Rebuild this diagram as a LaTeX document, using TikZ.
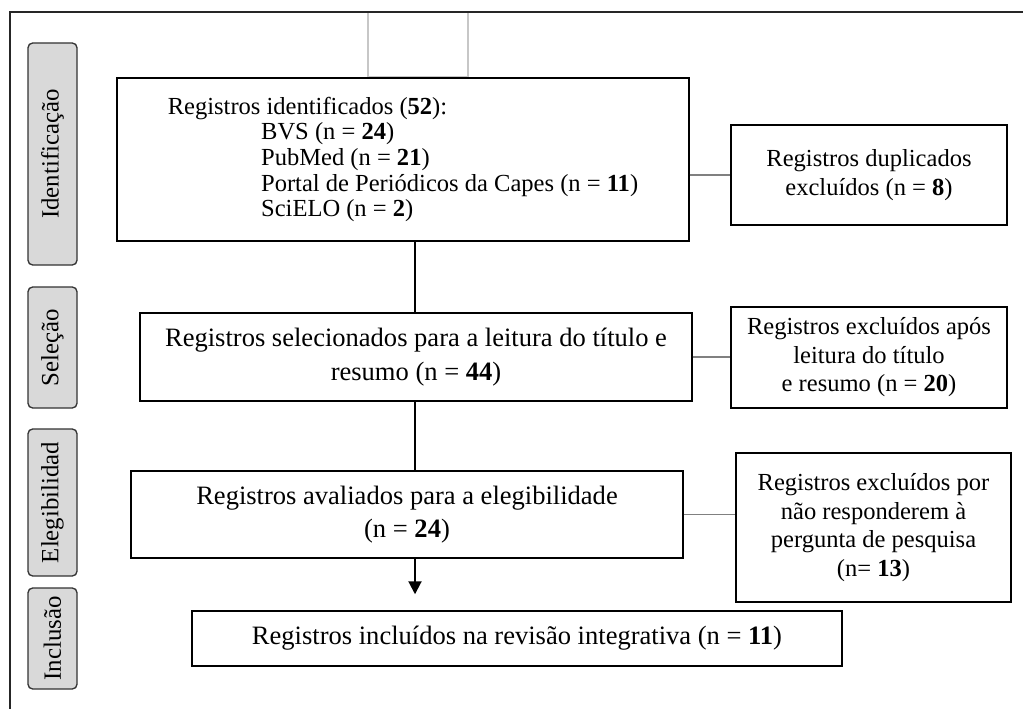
\documentclass[tikz,border=0pt]{standalone}
\usepackage{fontspec}
\setmainfont{Liberation Serif}
\usetikzlibrary{arrows.meta,positioning}

\begin{document}
\begin{tikzpicture}[x=0.75pt,y=-0.75pt,
    box/.style={draw=black,line width=1.1pt,inner sep=0pt,align=center,font=\fontsize{19.9}{25}\selectfont},
    sidebox/.style={draw=black,line width=1.1pt,inner sep=0pt,align=center,font=\fontsize{18.4}{21.4}\selectfont},
    phase/.style={draw=black!80,fill=black!15,line width=1pt,rounded corners=3.5pt,rotate=90,inner sep=0pt,minimum height=36.75pt,font=\fontsize{18.6}{22}\selectfont},
    link/.style={draw=black!50,line width=1.1pt},
    flow/.style={draw=black,line width=1.5pt}]
    \clip (0,0) rectangle (1023,709);
    \draw[black!22,line width=0.8pt] (368,12) rectangle (468,77);
    \draw[black!85,line width=1.1pt] (10,720) -- (10,12) -- (1030,12);

    \node[phase,minimum width=166.5pt] (fid) at (52.5,154) {Identificação};
    \node[phase,minimum width=90.75pt] (fsel) at (52.5,347.5) {Seleção};
    \node[phase,minimum width=110.25pt] (fele) at (52.5,502.5) {Elegibilidad};
    \node[phase,minimum width=75.75pt] (finc) at (52.5,638.5) {Inclusão};

    \node[box,align=left,minimum width=429pt,minimum height=122.25pt,font=\fontsize{18.4}{19.3}\selectfont] (ident) at (403,159.5)
        {Registros identificados (\textbf{52}):\\
         \hspace*{70pt}BVS (n = \textbf{24})\\
         \hspace*{70pt}PubMed (n = \textbf{21})\\
         \hspace*{70pt}Portal de Periódicos da Capes (n = \textbf{11})\\
         \hspace*{70pt}SciELO (n = \textbf{2})};
    \node[box,minimum width=414pt,minimum height=66pt] (sel) at (416,357)
        {Registros selecionados para a leitura do título e\\ resumo (n = \textbf{44})};
    \node[box,minimum width=414pt,minimum height=65.25pt] (ele) at (407,514.5)
        {Registros avaliados para a elegibilidade\\ (n = \textbf{24})};
    \node[box,minimum width=487.5pt,minimum height=41.25pt] (inc) at (517,638.5)
        {Registros incluídos na revisão integrativa (n = \textbf{11})};

    \node[sidebox,minimum width=207pt,minimum height=75pt] (dup) at (869,175)
        {Registros duplicados\\ excluídos (n = \textbf{8})};
    \node[sidebox,minimum width=207pt,minimum height=75.75pt] (exsel) at (869,357.5)
        {Registros excluídos após\\ leitura do título\\ e resumo (n = \textbf{20})};
    \node[sidebox,minimum width=206.25pt,minimum height=111.75pt] (exele) at (873.5,527.5)
        {Registros excluídos por\\ não responderem à\\ pergunta de pesquisa\\ (n= \textbf{13})};

    \coordinate (spine) at (415,0);
    \draw[flow] (ident.south -| spine) -- (sel.north -| spine);
    \draw[flow] (sel.south -| spine) -- (ele.north -| spine);
    \draw[flow,-{Triangle[width=9.75pt,length=9.75pt]},shorten >=12pt] (ele.south -| spine) -- (inc.north -| spine);

    \draw[link] (ident.east |- dup.west) -- (dup.west);
    \draw[link] (sel.east) -- (sel.east -| exsel.west);
    \draw[link] (ele.east) -- (ele.east -| exele.west);
\end{tikzpicture}
\end{document}
